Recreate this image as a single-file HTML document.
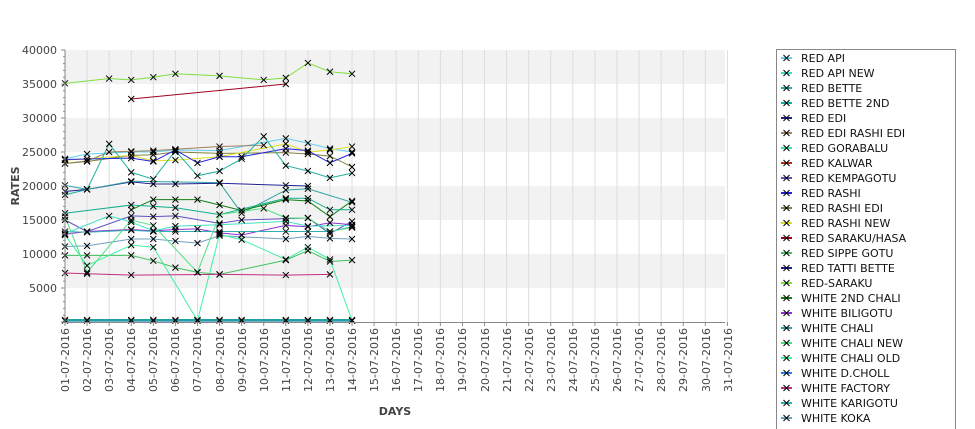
<!DOCTYPE html>
<html><head><meta charset="utf-8"><style>
body{margin:0;background:#fff;width:975px;height:429px;overflow:hidden;font-family:"DejaVu Sans","Liberation Sans",sans-serif}
svg{position:absolute;left:0;top:0}
</style></head><body>
<svg width="975" height="429" xmlns="http://www.w3.org/2000/svg" font-family="DejaVu Sans, Liberation Sans, sans-serif">
<rect x="65" y="50" width="660" height="34" fill="#f2f2f2"/>
<rect x="65" y="118" width="660" height="34" fill="#f2f2f2"/>
<rect x="65" y="186" width="660" height="34" fill="#f2f2f2"/>
<rect x="65" y="254" width="660" height="34" fill="#f2f2f2"/>
<g id="grid" stroke="#ddd" stroke-width="1"></g>
<g id="series"></g>
<line x1="65" y1="50" x2="65" y2="323" stroke="#888"/>
<line x1="62" y1="322.5" x2="725" y2="322.5" stroke="#888"/>
<g id="ticks" stroke="#888"></g>
<g font-size="11" fill="#444" text-anchor="end">
<text x="57" y="54">40000</text><text x="57" y="88">35000</text><text x="57" y="122">30000</text><text x="57" y="156">25000</text><text x="57" y="190">20000</text><text x="57" y="224">15000</text><text x="57" y="258">10000</text><text x="57" y="292">5000</text>
</g>
<g font-size="11" fill="#444" text-anchor="end">
<text transform="translate(69,328) rotate(-90)">01-07-2016</text>
<text transform="translate(91,328) rotate(-90)">02-07-2016</text>
<text transform="translate(113,328) rotate(-90)">03-07-2016</text>
<text transform="translate(135,328) rotate(-90)">04-07-2016</text>
<text transform="translate(157,328) rotate(-90)">05-07-2016</text>
<text transform="translate(179,328) rotate(-90)">06-07-2016</text>
<text transform="translate(201,328) rotate(-90)">07-07-2016</text>
<text transform="translate(224,328) rotate(-90)">08-07-2016</text>
<text transform="translate(246,328) rotate(-90)">09-07-2016</text>
<text transform="translate(268,328) rotate(-90)">10-07-2016</text>
<text transform="translate(290,328) rotate(-90)">11-07-2016</text>
<text transform="translate(312,328) rotate(-90)">12-07-2016</text>
<text transform="translate(334,328) rotate(-90)">13-07-2016</text>
<text transform="translate(356,328) rotate(-90)">14-07-2016</text>
<text transform="translate(378,328) rotate(-90)">15-07-2016</text>
<text transform="translate(400,328) rotate(-90)">16-07-2016</text>
<text transform="translate(422,328) rotate(-90)">17-07-2016</text>
<text transform="translate(444,328) rotate(-90)">18-07-2016</text>
<text transform="translate(466,328) rotate(-90)">19-07-2016</text>
<text transform="translate(489,328) rotate(-90)">20-07-2016</text>
<text transform="translate(511,328) rotate(-90)">21-07-2016</text>
<text transform="translate(533,328) rotate(-90)">22-07-2016</text>
<text transform="translate(555,328) rotate(-90)">23-07-2016</text>
<text transform="translate(577,328) rotate(-90)">24-07-2016</text>
<text transform="translate(599,328) rotate(-90)">25-07-2016</text>
<text transform="translate(621,328) rotate(-90)">26-07-2016</text>
<text transform="translate(643,328) rotate(-90)">27-07-2016</text>
<text transform="translate(665,328) rotate(-90)">28-07-2016</text>
<text transform="translate(687,328) rotate(-90)">29-07-2016</text>
<text transform="translate(710,328) rotate(-90)">30-07-2016</text>
<text transform="translate(732,328) rotate(-90)">31-07-2016</text>
</g>
<text x="395" y="415" font-size="11" font-weight="bold" fill="#444" text-anchor="middle">DAYS</text>
<text transform="translate(19,186) rotate(-90)" font-size="11" font-weight="bold" fill="#444" text-anchor="middle">RATES</text>
<rect x="776.5" y="49.5" width="179" height="390" fill="#fff" stroke="#888"/>
<g id="legmark"></g>
<g font-size="11" fill="#111">
<text x="801" y="62">RED API</text>
<text x="801" y="77">RED API NEW</text>
<text x="801" y="92">RED BETTE</text>
<text x="801" y="107">RED BETTE 2ND</text>
<text x="801" y="122">RED EDI</text>
<text x="801" y="137">RED EDI RASHI EDI</text>
<text x="801" y="152">RED GORABALU</text>
<text x="801" y="167">RED KALWAR</text>
<text x="801" y="182">RED KEMPAGOTU</text>
<text x="801" y="197">RED RASHI</text>
<text x="801" y="212">RED RASHI EDI</text>
<text x="801" y="227">RED RASHI NEW</text>
<text x="801" y="242">RED SARAKU/HASA</text>
<text x="801" y="257">RED SIPPE GOTU</text>
<text x="801" y="272">RED TATTI BETTE</text>
<text x="801" y="287">RED-SARAKU</text>
<text x="801" y="302">WHITE 2ND CHALI</text>
<text x="801" y="317">WHITE BILIGOTU</text>
<text x="801" y="332">WHITE CHALI</text>
<text x="801" y="347">WHITE CHALI NEW</text>
<text x="801" y="362">WHITE CHALI OLD</text>
<text x="801" y="377">WHITE D.CHOLL</text>
<text x="801" y="392">WHITE FACTORY</text>
<text x="801" y="407">WHITE KARIGOTU</text>
<text x="801" y="422">WHITE KOKA</text>
</g>
</svg>
<script>
const NS="http://www.w3.org/2000/svg";
const X=i=>65+22.08*i, Y=v=>322-v*0.0068;
const g=document.getElementById('grid'),tk=document.getElementById('ticks');
for(let i=0;i<31;i++){let l=document.createElementNS(NS,'line');l.setAttribute('x1',X(i));l.setAttribute('x2',X(i));l.setAttribute('y1',50);l.setAttribute('y2',322);g.appendChild(l);
let t=document.createElementNS(NS,'line');t.setAttribute('x1',X(i));t.setAttribute('x2',X(i));t.setAttribute('y1',322);t.setAttribute('y2',326);tk.appendChild(t);}
for(let v=0;v<=40000;v+=1000){let t=document.createElementNS(NS,'line');let y=Y(v);t.setAttribute('x1',v%5000?63:61);t.setAttribute('x2',65);t.setAttribute('y1',y);t.setAttribute('y2',y);tk.appendChild(t);}
const n=null;
const S=[
["#7fe040",[35100,n,35800,35600,36000,36500,n,36200,n,35600,35900,38100,36800,36500]],
["#a00020",[n,n,n,32800,n,n,n,n,n,n,35000,n,n,n]],
["#60d0f0",[24000,24700,n,25000,25000,25300,n,25200,n,n,27000,26300,25500,25000]],
["#a08060",[23300,23700,25000,25100,25200,25400,n,25800,n,26000,n,n,n,n]],
["#808040",[23300,23600,n,24500,24600,25000,n,24800,n,n,24900,24700,24400,22800]],
["#e0e020",[23800,24000,n,24500,23700,23800,n,24300,n,n,26200,25000,25300,25800]],
["#2020e0",[23900,n,n,24100,23600,25300,23400,24300,24300,n,25500,25200,23400,24800]],
["#20b0a0",[18700,19500,26200,22000,21000,25200,21500,22200,24000,27300,23000,22200,21200,21900]],
["#202090",[19200,19500,n,20600,20300,20300,n,20400,n,n,20100,20000,n,n]],
["#30a0a0",[20100,19500,n,20700,n,n,n,20500,16000,n,19400,19600,n,17600]],
["#108010",[n,n,n,16500,18000,18000,18000,17200,16400,n,18000,17800,15500,17800]],
["#10b090",[16000,n,n,17200,17000,16800,n,15800,n,n,18200,18200,16500,16500]],
["#6050c0",[15000,13300,n,15600,15500,15600,n,14500,15000,n,15200,15300,13000,14800]],
["#9030d0",[12900,13300,n,13600,13400,13600,13700,13100,12800,n,14200,14000,14600,14300]],
["#30b0b0",[13300,13200,n,13500,13300,13300,n,13300,n,n,13300,13300,13300,14000]],
["#70a0c0",[11100,11200,n,12200,12200,11900,11600,12700,n,n,12200,12600,12300,12200]],
["#40c060",[9800,9800,n,9800,9000,8000,7300,7000,n,n,9100,10500,8900,9100]],
["#50e080",[15500,7300,n,15000,14200,n,7300,15800,n,16700,15300,15300,13300,13900]],
["#40f0a0",[12800,8300,n,11300,11000,n,200,12900,12100,n,9200,11000,9200,200]],
["#40e0c0",[13000,n,15600,14700,13400,14100,n,14300,n,n,14800,14100,n,14200]],
["#c03080",[7200,7100,n,6900,n,n,n,7000,n,n,6900,n,7000,n]],
["#2080c0",[200,200,n,200,200,200,200,200,200,n,200,200,200,200]],
["#20a0a0",[300,300,n,300,300,300,300,300,300,n,300,300,300,300]]
];
const sg=document.getElementById('series');
function mk(x,y,c,par){let p=document.createElementNS(NS,'path');p.setAttribute('d',`M${x-3} ${y-3}L${x+3} ${y+3}M${x-3} ${y+3}L${x+3} ${y-3}`);p.setAttribute('stroke',c);p.setAttribute('stroke-width','1');par.appendChild(p);}
S.forEach(([c,d])=>{let pts=[];d.forEach((v,i)=>{if(v!==null)pts.push([X(i),Y(v)]);});
let pl=document.createElementNS(NS,'polyline');pl.setAttribute('points',pts.map(p=>p.join(',')).join(' '));pl.setAttribute('fill','none');pl.setAttribute('stroke',c);pl.setAttribute('stroke-width',c=="#2080c0"||c=="#20a0a0"?2:1);sg.appendChild(pl);});
S.forEach(([c,d])=>{d.forEach((v,i)=>{if(v!==null)mk(X(i),Y(v),'#000',sg);});});
const lc=["#60d0f0","#40e0c0","#20b0a0","#10b0a0","#202090","#a08060","#40e0a0","#b03010","#6050c0","#2020e0","#808040","#e0e020","#a00020","#40c060","#202090","#7fe040","#108010","#9030d0","#30a0a0","#50e080","#40f0a0","#2080e0","#c03080","#30b0b0","#70a0c0"];
const lm=document.getElementById('legmark');
lc.forEach((c,i)=>{let y=58+15*i;let l=document.createElementNS(NS,'line');l.setAttribute('x1',781);l.setAttribute('x2',792);l.setAttribute('y1',y);l.setAttribute('y2',y);l.setAttribute('stroke',c);l.setAttribute('stroke-width',2);lm.appendChild(l);mk(786.5,y,'#000',lm);});
</script>
</body></html>
